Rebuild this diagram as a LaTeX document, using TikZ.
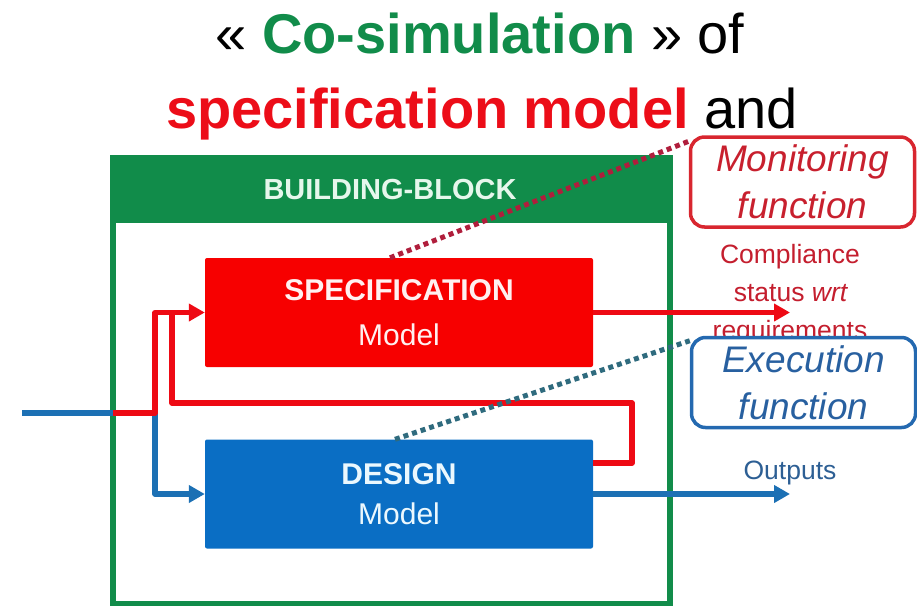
\documentclass[tikz,border=0pt]{standalone}
\usepackage{fontspec}
\setmainfont{Liberation Sans}
\usetikzlibrary{arrows.meta}

\definecolor{bbgreen}{HTML}{118C4A}
\definecolor{headtext}{HTML}{E6F7EC}
\definecolor{titlered}{HTML}{EC0D18}
\definecolor{specred}{HTML}{F70000}
\definecolor{designblue}{HTML}{0A6EC4}
\definecolor{flowblue}{HTML}{1C70B4}
\definecolor{flowred}{HTML}{EE0A14}
\definecolor{monred}{HTML}{D8262F}
\definecolor{montext}{HTML}{C8202E}
\definecolor{cmpltext}{HTML}{C41E2E}
\definecolor{execblue}{HTML}{2469B0}
\definecolor{exectext}{HTML}{2860A0}
\definecolor{outtext}{HTML}{2D5F94}
\definecolor{reddots}{HTML}{B01E3C}
\definecolor{bluedots}{HTML}{2F6B7E}

\tikzset{
  modelbox/.style={minimum width=388, minimum height=109, inner sep=0,
    rounded corners=2, align=center},
  specbox/.style={modelbox, fill=specred, text=white!94!red,
    font=\fontsize{30}{45}\selectfont},
  designbox/.style={modelbox, fill=designblue, text=white!92!cyan,
    font=\fontsize{30}{40.5}\selectfont},
  funcbox/.style={rounded corners=14, line width=3.5, fill=white,
    minimum width=224, minimum height=90, inner sep=0, align=center,
    font=\itshape\fontsize{37}{47}\selectfont},
  flow/.style={line width=5.2, line join=round},
  tip/.style={-{Triangle[length=16pt,width=17pt]}},
  dots/.style={line width=5, dash pattern=on 5pt off 4pt},
  sidetext/.style={anchor=base, font=\fontsize{26.5}{30}\selectfont},
}

\begin{document}
\begin{tikzpicture}[x=1pt,y=-1pt]
\useasboundingbox (0,0) rectangle (917,606);

% title
\node[anchor=base, font=\fontsize{56}{60}\selectfont] (title1) at (480,53)
  {« \textcolor{bbgreen}{\textbf{Co-simulation}} » of};
\node[anchor=base, font=\fontsize{56}{60}\selectfont] (title2) at (482,128)
  {\textcolor{titlered}{\textbf{specification model}} and};

% building block frame with its header band
\fill[bbgreen] (110,155) rectangle (673,223);
\draw[bbgreen, line width=5.5] (113,157.5) rectangle (670,603.5);
\node[font=\bfseries\fontsize{29}{30}\selectfont, text=headtext] (bbtitle)
  at (390,190) {BUILDING-BLOCK};

% the two models
\node[specbox] (spec) at (399,312.5) {\textbf{SPECIFICATION}\\Model};
\node[designbox] (design) at (399,494) {\textbf{DESIGN}\\Model};

% inputs
\coordinate (in0) at (22,413);
\coordinate (bbL) at (113,413);
\coordinate (split) at (155,413);
\draw[flow, flowblue] (in0) -- (bbL);
\draw[flow, flowblue, tip] (split) |- (design.west);
\draw[flow, flowred, tip] (bbL) -- (split) |- (spec.west);

% design outputs fed back to the specification model
\coordinate (fbR) at (632,403);
\coordinate (fbL) at (172,403);
\coordinate (fbJ) at (172,312.5);
\draw[flow, flowred] ([yshift=31pt]design.east) -| (fbR) -- (fbL) -- (fbJ);

% outputs of the block
\coordinate (cmplTip) at (790,312.5);
\coordinate (outTip) at (790,494);
\draw[flow, flowred, tip] (spec.east) -- (cmplTip);
\draw[flow, flowblue, tip] (design.east) -- (outTip);

% labels on the right
\node[sidetext, text=cmpltext] (cmpl1) at (790,263) {Compliance};
\node[sidetext, text=cmpltext] (cmpl2) at (791,301) {status \textit{wrt}};
\node[sidetext, text=cmpltext] (cmpl3) at (790,339) {requirements};
\node[sidetext, text=outtext] (outs) at (790,479) {Outputs};

\node[funcbox, draw=monred, text=montext] (monitor) at (802.5,182)
  {Monitoring\\function};
\node[funcbox, draw=execblue, text=exectext] (exec) at (803.5,382.5)
  {Execution\\function};

% dotted links from the models to their functions
\draw[dots, reddots] ([xshift=-9pt]spec.north) -- ([yshift=-6pt]monitor.north west);
\draw[dots, bluedots] ([xshift=-4pt]design.north) -- ([yshift=-5pt]exec.north west);
\end{tikzpicture}
\end{document}
